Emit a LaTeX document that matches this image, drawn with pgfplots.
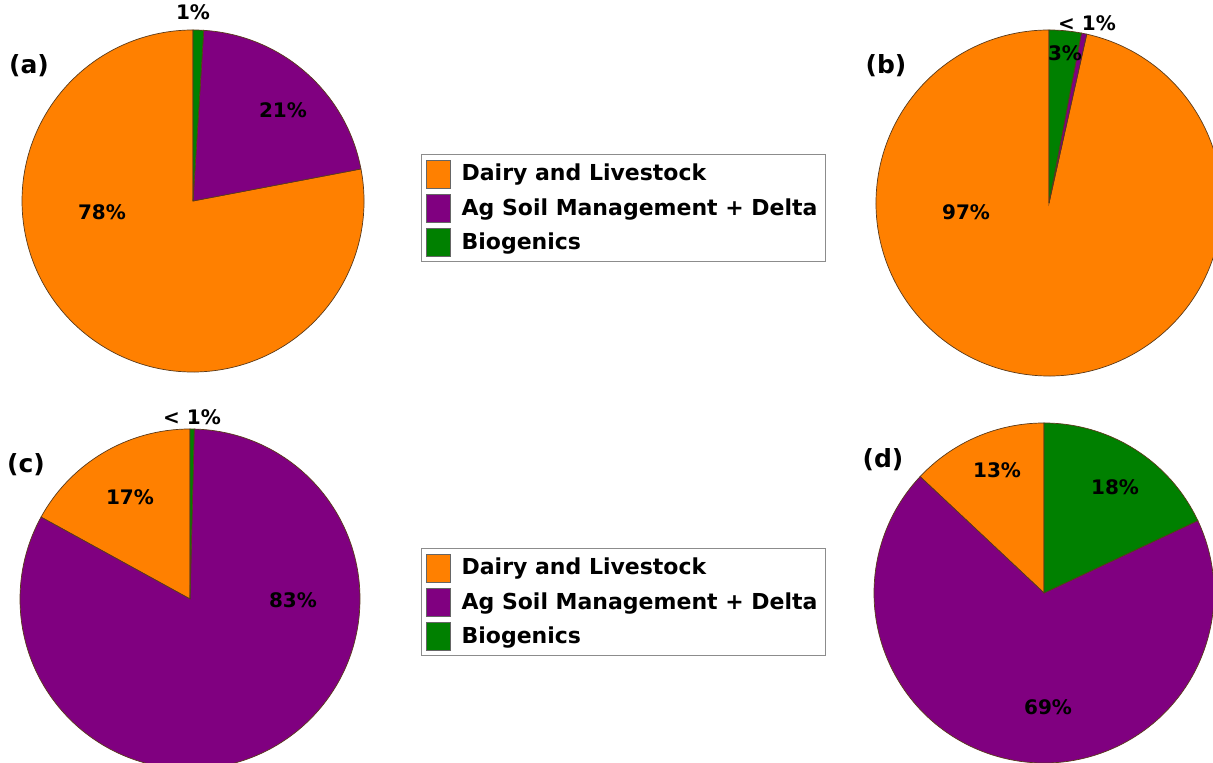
\documentclass[border=0pt]{standalone}
\usepackage{fontspec}
\setmainfont{DejaVu Sans}
\usepackage{pgfplots}
\pgfplotsset{compat=1.18}

\definecolor{dairy}{HTML}{FF8000}
\definecolor{agsoil}{HTML}{800080}
\definecolor{biog}{HTML}{008000}
\definecolor{edge}{HTML}{5A3A1A}

% one wedge per row: from/to are cumulative percentages, clockwise from 12 o'clock
\pgfplotsset{
  pie/.style={hide axis, scale only axis, width=#1, height=#1,
    xmin=-1, xmax=1, ymin=-1, ymax=1, anchor=center,
    clip=false},
  slice/.style={scatter, only marks, mark=*, mark size=0pt,
    mark options={draw=none, fill=none},
    point meta=\thisrow{to},
    visualization depends on={\thisrow{from}\as\pfrom},
    visualization depends on={\thisrow{to}\as\pto},
    scatter/@pre marker code/.code={%
      \pgfkeys{/pgf/fpu=true,/pgf/fpu/output format=fixed}%
      \pgfmathsetmacro\angS{90-3.6*\pfrom}%
      \pgfmathsetmacro\angE{90-3.6*\pto}%
      \pgfkeys{/pgf/fpu=false}%
      \filldraw[fill=#1, draw=edge, line width=0.35pt]
        (0pt,0pt) -- (\angS:\pieR) arc[start angle=\angS, end angle=\angE, radius=\pieR] -- cycle;},
    scatter/@post marker code/.code={},
    legend image code/.code={%
      \filldraw[fill=#1, draw=black!60, line width=0.4pt] (0pt,-7pt) rectangle (12pt,7pt);
      \path (15.5pt,0pt);}
  },
  pielegend/.style={legend cell align=left,
    legend style={draw=black!45, line width=0.6pt, fill=white,
      font=\bfseries\fontsize{11}{12}\selectfont,
      inner xsep=2pt, inner ysep=2.5pt, row sep=2.7pt,
      at={#1}, anchor=north west}}
}

\newcommand\lab[4][10]{\node[font=\bfseries\fontsize{#1}{12}\selectfont] at ({#2*0.5pt},{(763-#3)*0.5pt}) {#4};}

\begin{document}
\begin{tikzpicture}
\path[use as bounding box] (0,0) rectangle (606.5pt,381.5pt);
\clip (0,0) rectangle (606.5pt,381.5pt);

% (a)
\def\pieR{85.5pt}
\begin{axis}[pie=171pt, at={(96.5pt,281pt)}, pielegend={(1.1667,0.6374)}]
\addplot[slice=dairy]  table[row sep=\\] {x y from to\\ 0 0 22 100\\};
\addplot[slice=agsoil] table[row sep=\\] {x y from to\\ 0 0 1 22\\};
\addplot[slice=biog]   table[row sep=\\] {x y from to\\ 0 0 0 1\\};
\legend{Dairy and Livestock, Ag Soil Management + Delta, Biogenics}
\end{axis}

% (b)
\def\pieR{86.5pt}
\begin{axis}[pie=173pt, at={(524.5pt,280pt)}]
\addplot[slice=dairy]  table[row sep=\\] {x y from to\\ 0 0 3.5 100\\};
\addplot[slice=agsoil] table[row sep=\\] {x y from to\\ 0 0 3 3.5\\};
\addplot[slice=biog]   table[row sep=\\] {x y from to\\ 0 0 0 3\\};
\end{axis}

% (c)
\def\pieR{85pt}
\begin{axis}[pie=170pt, at={(95pt,82pt)}, pielegend={(1.1794,0.65)}]
\addplot[slice=dairy]  table[row sep=\\] {x y from to\\ 0 0 83 100\\};
\addplot[slice=agsoil] table[row sep=\\] {x y from to\\ 0 0 0.4 83\\};
\addplot[slice=biog]   table[row sep=\\] {x y from to\\ 0 0 0 0.4\\};
\legend{Dairy and Livestock, Ag Soil Management + Delta, Biogenics}
\end{axis}

% (d)
\def\pieR{85pt}
\begin{axis}[pie=170pt, at={(522pt,85pt)}]
\addplot[slice=dairy]  table[row sep=\\] {x y from to\\ 0 0 87 100\\};
\addplot[slice=agsoil] table[row sep=\\] {x y from to\\ 0 0 18 87\\};
\addplot[slice=biog]   table[row sep=\\] {x y from to\\ 0 0 0 18\\};
\end{axis}

\lab[12.5]{29}{66}{(a)}
\lab{193}{12}{1\%}
\lab{283}{110}{21\%}
\lab{102}{212}{78\%}

\lab[12.5]{886}{66}{(b)}
\lab{1087}{23}{< 1\%}
\lab{1065}{53}{3\%}
\lab{966}{212}{97\%}

\lab[12.5]{26}{465}{(c)}
\lab{192}{417}{< 1\%}
\lab{130}{497}{17\%}
\lab{293}{600}{83\%}

\lab[12.5]{883}{460}{(d)}
\lab{997}{470}{13\%}
\lab{1115}{487}{18\%}
\lab{1048}{707}{69\%}
\end{tikzpicture}
\end{document}
